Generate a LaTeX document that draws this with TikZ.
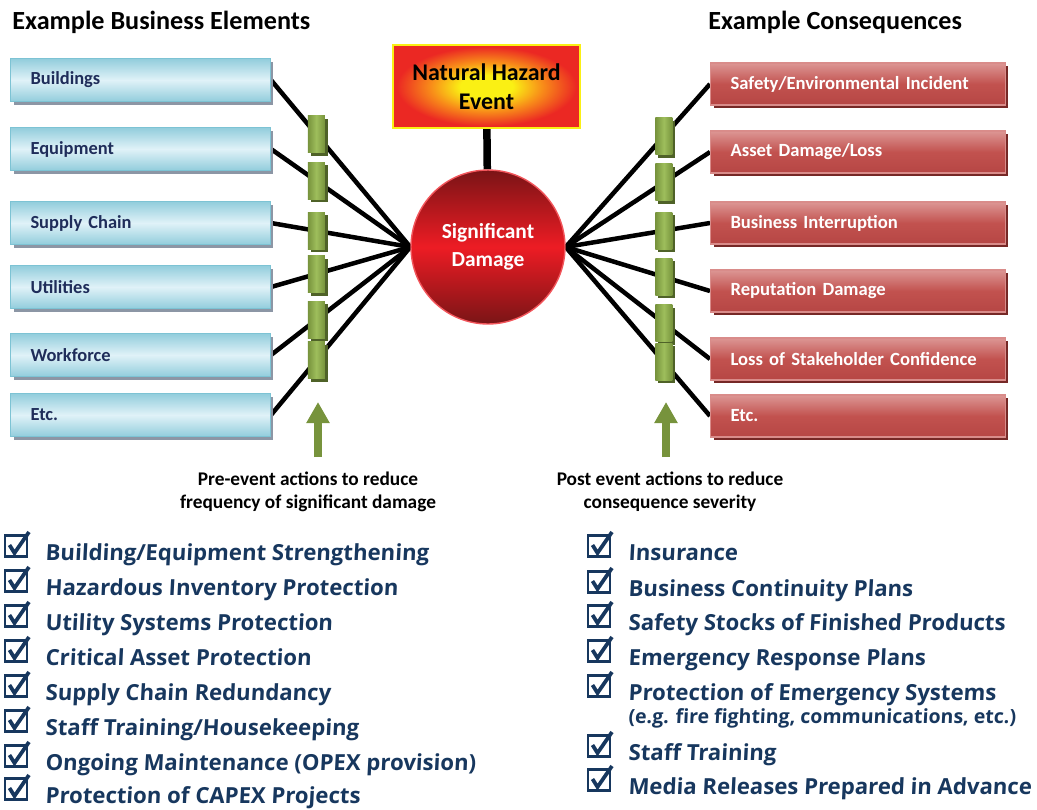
\documentclass[tikz,border=0pt]{standalone}
\usepackage{fontspec}
\setmainfont{Carlito}
\newfontfamily\listfont[FakeSlant=0.05]{Open Sans}
\usetikzlibrary{arrows.meta,shapes,shadows,calc}
\pgfdeclarelayer{background}
\pgfsetlayers{background,main}
\definecolor{elemEdge}{RGB}{146,205,220}
\definecolor{elemMid}{RGB}{224,242,248}
\definecolor{elemLine}{RGB}{125,195,212}
\definecolor{elemShade}{RGB}{140,150,165}
\definecolor{elemText}{RGB}{31,45,90}
\definecolor{cqTop}{RGB}{220,150,148}
\definecolor{cqMid}{RGB}{194,82,79}
\definecolor{cqBot}{RGB}{182,70,68}
\definecolor{cqLine}{RGB}{217,140,138}
\definecolor{cqShade}{RGB}{118,40,38}
\definecolor{gateDark}{RGB}{119,147,60}
\definecolor{gateLight}{RGB}{158,190,92}
\definecolor{gateShade}{RGB}{79,98,40}
\definecolor{dmgDark}{RGB}{122,20,22}
\definecolor{dmgRed}{RGB}{237,28,36}
\definecolor{hazYellow}{RGB}{250,240,20}
\definecolor{hazOrange}{RGB}{248,140,25}
\definecolor{hazRed}{RGB}{235,40,35}
\definecolor{listBlue}{RGB}{23,55,94}
\pgfdeclareradialshading{hazardGlow}{\pgfpoint{0bp}{0bp}}{color(0bp)=(hazYellow); color(7bp)=(hazYellow); color(15bp)=(hazOrange); color(24bp)=(hazRed); color(50bp)=(hazRed)}
\tikzstyle{element}=[rectangle, anchor=west, minimum height=0.86cm, text width=4.4cm, inner xsep=0.4cm, align=left, draw=elemLine, line width=0.6pt, top color=elemEdge, bottom color=elemEdge, middle color=elemMid, general shadow={fill=elemShade, shadow xshift=0.06cm, shadow yshift=-0.06cm}, text=elemText, font=\fontsize{10.5}{12}\selectfont\bfseries]
\tikzstyle{consequence}=[rectangle, anchor=west, minimum height=0.84cm, text width=5.1cm, inner xsep=0.4cm, align=left, draw=cqLine, line width=0.6pt, top color=cqTop, bottom color=cqBot, middle color=cqMid, general shadow={fill=cqShade, shadow xshift=0.06cm, shadow yshift=-0.06cm}, text=white, font=\fontsize{10.6}{12}\selectfont\bfseries]
\tikzstyle{gate}=[rectangle, minimum width=0.34cm, minimum height=0.74cm, inner sep=0pt, left color=gateDark, right color=gateDark, middle color=gateLight, general shadow={fill=gateShade, shadow xshift=0.06cm, shadow yshift=-0.06cm}]
\tikzstyle{damage}=[circle, minimum size=3.08cm, inner sep=0pt, draw=dmgRed!75!white, line width=0.8pt, top color=dmgDark, bottom color=dmgDark, middle color=dmgRed, text=white, align=center, font=\fontsize{12.2}{15.9}\selectfont\bfseries]
\tikzstyle{hazard}=[rectangle, minimum width=3.74cm, minimum height=1.66cm, draw=hazYellow, line width=1.2pt, shading=hazardGlow, align=center, font=\fontsize{13.6}{16.4}\selectfont\bfseries]
\tikzstyle{link}=[draw, line width=0.09cm]
\tikzstyle{trigger}=[draw, line width=0.15cm]
\tikzstyle{upArrow}=[draw=gateDark, line width=0.16cm, -{Triangle[width=0.44cm,length=0.42cm]}]
\tikzstyle{header}=[anchor=west, inner sep=0pt, font=\fontsize{14.9}{17}\selectfont\bfseries]
\tikzstyle{caption}=[align=center, inner sep=0pt, font=\fontsize{11}{13.2}\selectfont\bfseries]
\tikzstyle{item}=[anchor=base west, inner sep=0pt, text=listBlue, font=\listfont\bfseries\fontsize{12.6}{15}\selectfont]
\tikzstyle{subitem}=[item, font=\listfont\bfseries\fontsize{11.1}{13}\selectfont]
\tikzset{tickbox/.pic={
    \draw[listBlue, line width=0.055cm] (-11,-10.5) rectangle (11,10.5);
    \draw[listBlue, line width=0.075cm, line join=miter] (-6.5,-1) -- (-1.5,7) -- (13,-14);
}}

\begin{document}
\begin{tikzpicture}[x=0.02cm, y=-0.02cm]
    \useasboundingbox (0,0) rectangle (1037,809);
    % Headers
    \node[header] (leftHead) at (12,22) {Example Business Elements};
    \node[header] (rightHead) at (708,22) {Example Consequences};

    % The event and the damage it causes
    \node[hazard] (hazard) at (486.5,86.5) {Natural Hazard\\Event};
    \node[damage] (dmg) at (488,247) {Significant\\Damage};

    % Business elements on the left, consequences on the right
    \foreach \y/\name/\txt in {80/el1/Buildings, 149/el2/Equipment, 223/el3/Supply Chain, 287/el4/Utilities, 355/el5/Workforce, 415/el6/Etc.}
        \node[element] (\name) at (10,\y) {\txt};
    \foreach \y/\name/\txt in {84/cq1/{Safety/Environmental Incident}, 152/cq2/{Asset Damage/Loss}, 223/cq3/Business Interruption, 291/cq4/Reputation Damage, 359/cq5/Loss of Stakeholder Confidence, 416/cq6/Etc.}
        \node[consequence] (\name) at (710,\y) {\txt};

    % Barriers sitting on the links
    \foreach \i in {1,...,6} {
        \node[gate] (gl\i) at ($(el\i.east)!0.325!(dmg.west)$) {};
        \node[gate] (gr\i) at ($(dmg.east)!0.68!(cq\i.west)$) {};
    }

    % Links go behind everything
    \begin{pgfonlayer}{background}
    \foreach \i in {1,...,6} {
        \path[link] (el\i.east) -- (dmg.west);
        \path[link] (dmg.east) -- (cq\i.west);
    }
    \path[trigger] (hazard) -- (dmg);
    \end{pgfonlayer}

    % Arrows and what they stand for
    \coordinate (preTail) at (318,457);
    \coordinate (preTip) at (318,402);
    \coordinate (postTail) at (666,457);
    \coordinate (postTip) at (666,402);
    \path[upArrow] (preTail) -- (preTip);
    \path[upArrow] (postTail) -- (postTip);
    \node[caption] (preText) at (308,492) {Pre-event actions to reduce\\frequency of significant damage};
    \node[caption] (postText) at (670,492) {Post event actions to reduce\\consequence severity};

    % Lists of actions
    \foreach \y/\txt [count=\i] in {560/{Building/Equipment Strengthening}, 595/Hazardous Inventory Protection, 630/Utility Systems Protection, 665/Critical Asset Protection, 700/Supply Chain Redundancy, 735/{Staff Training/Housekeeping}, 770/Ongoing Maintenance (OPEX provision), 803/Protection of CAPEX Projects} {
        \pic (lt\i) at (16,\y-14) {tickbox};
        \node[item] (li\i) at (45,\y) {\txt};
    }
    \foreach \y/\txt [count=\i] in {560/Insurance, 596/Business Continuity Plans, 630/Safety Stocks of Finished Products, 665/Emergency Response Plans, 700/Protection of Emergency Systems, 760/Staff Training, 794/Media Releases Prepared in Advance} {
        \pic (rt\i) at (599,\y-14) {tickbox};
        \node[item] (ri\i) at (628,\y) {\txt};
    }
    \node[subitem] (rsub) at (628,723) {(e.g. fire fighting, communications, etc.)};
\end{tikzpicture}
\end{document}
